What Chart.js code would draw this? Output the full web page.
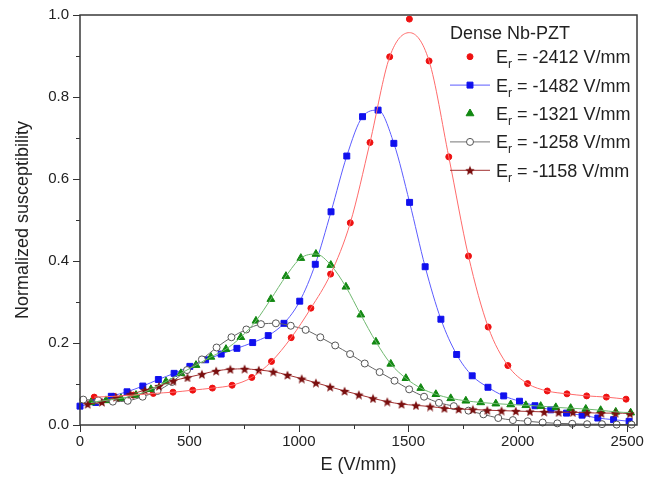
<!DOCTYPE html>
<html>
<head>
<meta charset="utf-8">
<script src="https://cdn.jsdelivr.net/npm/chart.js@4.4.0/dist/chart.umd.min.js"></script>
<style>
  html, body { margin: 0; padding: 0; background: #fff; }
</style>
</head>
<body>
<canvas id="chart" width="659" height="485"></canvas>
<script>
// values
const redE = [65, 155, 245, 335, 425, 515, 605, 695, 785, 875, 965, 1055, 1145, 1235, 1325, 1415, 1505, 1595, 1685, 1775, 1865, 1955, 2045, 2135, 2225, 2315, 2405, 2495];
const redY = [0.068, 0.070, 0.073, 0.077, 0.080, 0.085, 0.090, 0.097, 0.116, 0.155, 0.213, 0.285, 0.368, 0.493, 0.689, 0.898, 0.990, 0.888, 0.654, 0.412, 0.239, 0.145, 0.101, 0.083, 0.076, 0.071, 0.068, 0.063];
// red fitted curve (peak sits lower than the top point)
const redFitY = [0.068, 0.070, 0.073, 0.077, 0.080, 0.085, 0.090, 0.097, 0.116, 0.155, 0.213, 0.285, 0.368, 0.493, 0.689, 0.898, 0.957, 0.888, 0.654, 0.412, 0.239, 0.145, 0.101, 0.083, 0.076, 0.071, 0.068, 0.063];

const blueE = [0, 72, 143, 215, 287, 358, 430, 502, 574, 645, 717, 789, 860, 932, 1004, 1075, 1147, 1219, 1291, 1362, 1434, 1506, 1577, 1649, 1721, 1792, 1864, 1936, 2008, 2079, 2151, 2223, 2294, 2366, 2438, 2509];
const blueY = [0.046, 0.055, 0.070, 0.081, 0.095, 0.111, 0.126, 0.143, 0.159, 0.173, 0.187, 0.201, 0.218, 0.248, 0.302, 0.392, 0.520, 0.656, 0.752, 0.768, 0.687, 0.543, 0.386, 0.258, 0.172, 0.120, 0.092, 0.071, 0.058, 0.047, 0.037, 0.029, 0.024, 0.017, 0.013, 0.009];

const greenE = [50, 119, 187, 256, 324, 393, 461, 530, 598, 667, 735, 804, 872, 941, 1009, 1078, 1146, 1215, 1283, 1352, 1420, 1489, 1557, 1626, 1694, 1763, 1831, 1900, 1968, 2037, 2105, 2174, 2242, 2311, 2379, 2448, 2516];
const greenY = [0.055, 0.060, 0.065, 0.073, 0.087, 0.106, 0.126, 0.146, 0.166, 0.185, 0.214, 0.254, 0.307, 0.363, 0.407, 0.417, 0.390, 0.337, 0.269, 0.203, 0.149, 0.114, 0.090, 0.075, 0.065, 0.059, 0.055, 0.052, 0.050, 0.048, 0.046, 0.043, 0.041, 0.039, 0.036, 0.032, 0.030];

const grayE = [15, 83, 150, 218, 286, 354, 421, 489, 557, 624, 692, 760, 827, 895, 963, 1031, 1098, 1166, 1234, 1301, 1369, 1437, 1504, 1572, 1640, 1708, 1775, 1843, 1911, 1978, 2046, 2114, 2181, 2249, 2317, 2385, 2452, 2520];
const grayY = [0.062, 0.060, 0.057, 0.059, 0.069, 0.083, 0.105, 0.134, 0.160, 0.189, 0.214, 0.233, 0.246, 0.248, 0.242, 0.232, 0.214, 0.194, 0.173, 0.150, 0.129, 0.108, 0.087, 0.069, 0.054, 0.046, 0.035, 0.026, 0.017, 0.012, 0.009, 0.006, 0.004, 0.003, 0.002, 0.002, 0.001, 0.001];

const starE = [35, 100, 165, 231, 296, 361, 426, 491, 557, 622, 687, 752, 817, 883, 948, 1013, 1078, 1143, 1209, 1274, 1339, 1404, 1469, 1535, 1600, 1665, 1730, 1795, 1861, 1926, 1991, 2056, 2121, 2187, 2252, 2317, 2382, 2447, 2513];
const starY = [0.051, 0.056, 0.068, 0.075, 0.085, 0.095, 0.108, 0.116, 0.124, 0.132, 0.136, 0.137, 0.134, 0.130, 0.122, 0.113, 0.103, 0.093, 0.083, 0.074, 0.065, 0.057, 0.051, 0.048, 0.045, 0.041, 0.039, 0.038, 0.036, 0.035, 0.034, 0.033, 0.032, 0.031, 0.031, 0.030, 0.029, 0.029, 0.028];

const legendTitle = 'Dense Nb-PZT';
const seriesLabels = ['-2412 V/mm', '-1482 V/mm', '-1321 V/mm', '-1258 V/mm', '-1158 V/mm'];
const xTicks = [0, 500, 1000, 1500, 2000, 2500];
const xMinor = [250, 750, 1250, 1750, 2250];
const yTicks = [0, 0.2, 0.4, 0.6, 0.8, 1.0];
const yMinor = [0.1, 0.3, 0.5, 0.7, 0.9];

const FONT = "'Liberation Sans', Arial, sans-serif";
const TEXT = '#222';

function makeStar(size, color) {
    const c = document.createElement('canvas');
    c.width = size; c.height = size;
    const g = c.getContext('2d');
    const cx = size / 2, cy = size / 2 + 0.6, R = size / 2, r = R * 0.45;
    g.beginPath();
    for (let i = 0; i < 10; i++) {
        const a = -Math.PI / 2 + i * Math.PI / 5;
        const rad = i % 2 ? r : R;
        g.lineTo(cx + rad * Math.cos(a), cy + rad * Math.sin(a));
    }
    g.closePath();
    g.fillStyle = color;
    g.fill();
    return c;
}
const starImg = makeStar(10, '#7a0f0f');

const pts = (xs, ys) => xs.map((x, i) => ({ x: x, y: ys[i] }));

// marker + line style per legend row
const legendItems = [
    { line: null, fill: '#ee1111', stroke: '#ee1111', point: { pointStyle: 'circle', radius: 3, borderWidth: 1 } },
    { line: '#5c5cff', fill: '#1010ee', stroke: '#1010ee', point: { pointStyle: 'rect', radius: 4.2, borderWidth: 1 } },
    { line: null, fill: '#118811', stroke: '#118811', point: { pointStyle: 'triangle', radius: 4.5, borderWidth: 1 } },
    { line: '#777', fill: '#fff', stroke: '#555', point: { pointStyle: 'circle', radius: 3.5, borderWidth: 1 } },
    { line: '#a03030', fill: '#7a0f0f', stroke: '#7a0f0f', point: { pointStyle: starImg, radius: 5 } }
];

const frameAndLegend = {
    id: 'frameAndLegend',
    afterDraw(chart) {
        const { ctx, chartArea: a, scales: { x, y } } = chart;
        ctx.save();
        ctx.strokeStyle = '#333';
        ctx.lineWidth = 1;
        ctx.beginPath();
        const xt = (vals, len) => vals.forEach(v => {
            const px = Math.round(x.getPixelForValue(v)) + 0.5;
            ctx.moveTo(px, a.bottom); ctx.lineTo(px, a.bottom + len);
        });
        const yt = (vals, len) => vals.forEach(v => {
            const py = Math.round(y.getPixelForValue(v)) + 0.5;
            ctx.moveTo(a.left, py); ctx.lineTo(a.left - len, py);
        });
        xt(xTicks, 7); xt(xMinor, 4);
        yt(yTicks, 7); yt(yMinor, 4);
        ctx.stroke();
        ctx.lineWidth = 1.5;
        ctx.strokeStyle = '#3a3a3a';
        ctx.strokeRect(a.left, a.top, a.right - a.left, a.bottom - a.top);

        // legend
        ctx.fillStyle = TEXT;
        ctx.textBaseline = 'alphabetic';
        ctx.textAlign = 'left';
        ctx.font = '18px ' + FONT;
        ctx.fillText(legendTitle, 450, 38.5);
        legendItems.forEach((it, i) => {
            const my = 56.7 + 28.4 * i;
            if (it.line) {
                ctx.strokeStyle = it.line;
                ctx.lineWidth = 1;
                ctx.beginPath();
                ctx.moveTo(450, my); ctx.lineTo(490, my);
                ctx.stroke();
            }
            ctx.fillStyle = it.fill;
            ctx.strokeStyle = it.stroke;
            ctx.lineWidth = 1;
            Chart.helpers.drawPoint(ctx, Object.assign({ rotation: 0 }, it.point), 470, my);
            const base = my + 6.5;
            ctx.fillStyle = TEXT;
            ctx.font = '18px ' + FONT;
            ctx.fillText('E', 496, base);
            const wE = ctx.measureText('E').width;
            ctx.font = '12px ' + FONT;
            ctx.fillText('r', 496 + wE, base + 5);
            const wr = ctx.measureText('r').width;
            ctx.font = '18px ' + FONT;
            ctx.fillText(' = ' + seriesLabels[i], 496 + wE + wr, base);
        });
        ctx.restore();
    }
};

new Chart(document.getElementById('chart').getContext('2d'), {
    type: 'scatter',
    data: {
        datasets: [
            {
                label: 'fit -2412', data: pts(redE, redFitY), showLine: true, pointRadius: 0,
                borderColor: '#ff6b6b', borderWidth: 1, cubicInterpolationMode: 'monotone'
            },
            {
                label: 'fit -1321', data: pts(greenE, greenY), showLine: true, pointRadius: 0,
                borderColor: '#6fb86f', borderWidth: 1, cubicInterpolationMode: 'monotone'
            },
            {
                label: 'Er = -1158 V/mm', data: pts(starE, starY), showLine: true,
                borderColor: '#a03030', borderWidth: 1, cubicInterpolationMode: 'monotone',
                pointStyle: starImg, pointRadius: 5
            },
            {
                label: 'Er = -1258 V/mm', data: pts(grayE, grayY), showLine: true,
                borderColor: '#666', borderWidth: 1, cubicInterpolationMode: 'monotone',
                pointStyle: 'circle', pointRadius: 3.5, pointBackgroundColor: '#fff',
                pointBorderColor: '#555', pointBorderWidth: 1
            },
            {
                label: 'Er = -1321 V/mm', data: pts(greenE, greenY), showLine: false,
                pointStyle: 'triangle', pointRadius: 4.5, pointBackgroundColor: '#118811',
                pointBorderColor: '#118811'
            },
            {
                label: 'Er = -1482 V/mm', data: pts(blueE, blueY), showLine: true,
                borderColor: '#5c5cff', borderWidth: 1, cubicInterpolationMode: 'monotone',
                pointStyle: 'rect', pointRadius: 4.2, pointBackgroundColor: '#1010ee',
                pointBorderColor: '#1010ee'
            },
            {
                label: 'Er = -2412 V/mm', data: pts(redE, redY), showLine: false,
                pointStyle: 'circle', pointRadius: 3, pointBackgroundColor: '#ee1111',
                pointBorderColor: '#ee1111'
            }
        ]
    },
    options: {
        responsive: false,
        animation: false,
        clip: false,
        layout: { padding: { top: 15, right: 22, left: 0, bottom: 0 } },
        plugins: {
            legend: { display: false },
            tooltip: { enabled: false }
        },
        scales: {
            x: {
                type: 'linear', min: 0, max: 2545,
                afterBuildTicks: s => { s.ticks = xTicks.map(v => ({ value: v })); },
                afterFit: s => { s.height = 60; s.paddingLeft = 0; s.paddingRight = 0; },
                grid: { display: false, drawTicks: false },
                border: { display: false },
                ticks: { color: TEXT, font: { family: FONT, size: 15 }, padding: 8, maxRotation: 0, callback: v => String(v) },
                title: { display: true, text: 'E (V/mm)', color: TEXT, font: { family: FONT, size: 18 }, padding: { top: 0, bottom: 9 } }
            },
            y: {
                type: 'linear', min: 0, max: 1.0,
                afterBuildTicks: s => { s.ticks = yTicks.map(v => ({ value: v })); },
                afterFit: s => { s.width = 80; s.paddingTop = 0; s.paddingBottom = 0; },
                grid: { display: false, drawTicks: false },
                border: { display: false },
                ticks: { color: TEXT, font: { family: FONT, size: 15 }, padding: 11, callback: v => v.toFixed(1) },
                title: { display: true, text: 'Normalized susceptibility', color: TEXT, font: { family: FONT, size: 18 }, padding: { top: 12, bottom: 0 } }
            }
        }
    },
    plugins: [frameAndLegend]
});
</script>
</body>
</html>
